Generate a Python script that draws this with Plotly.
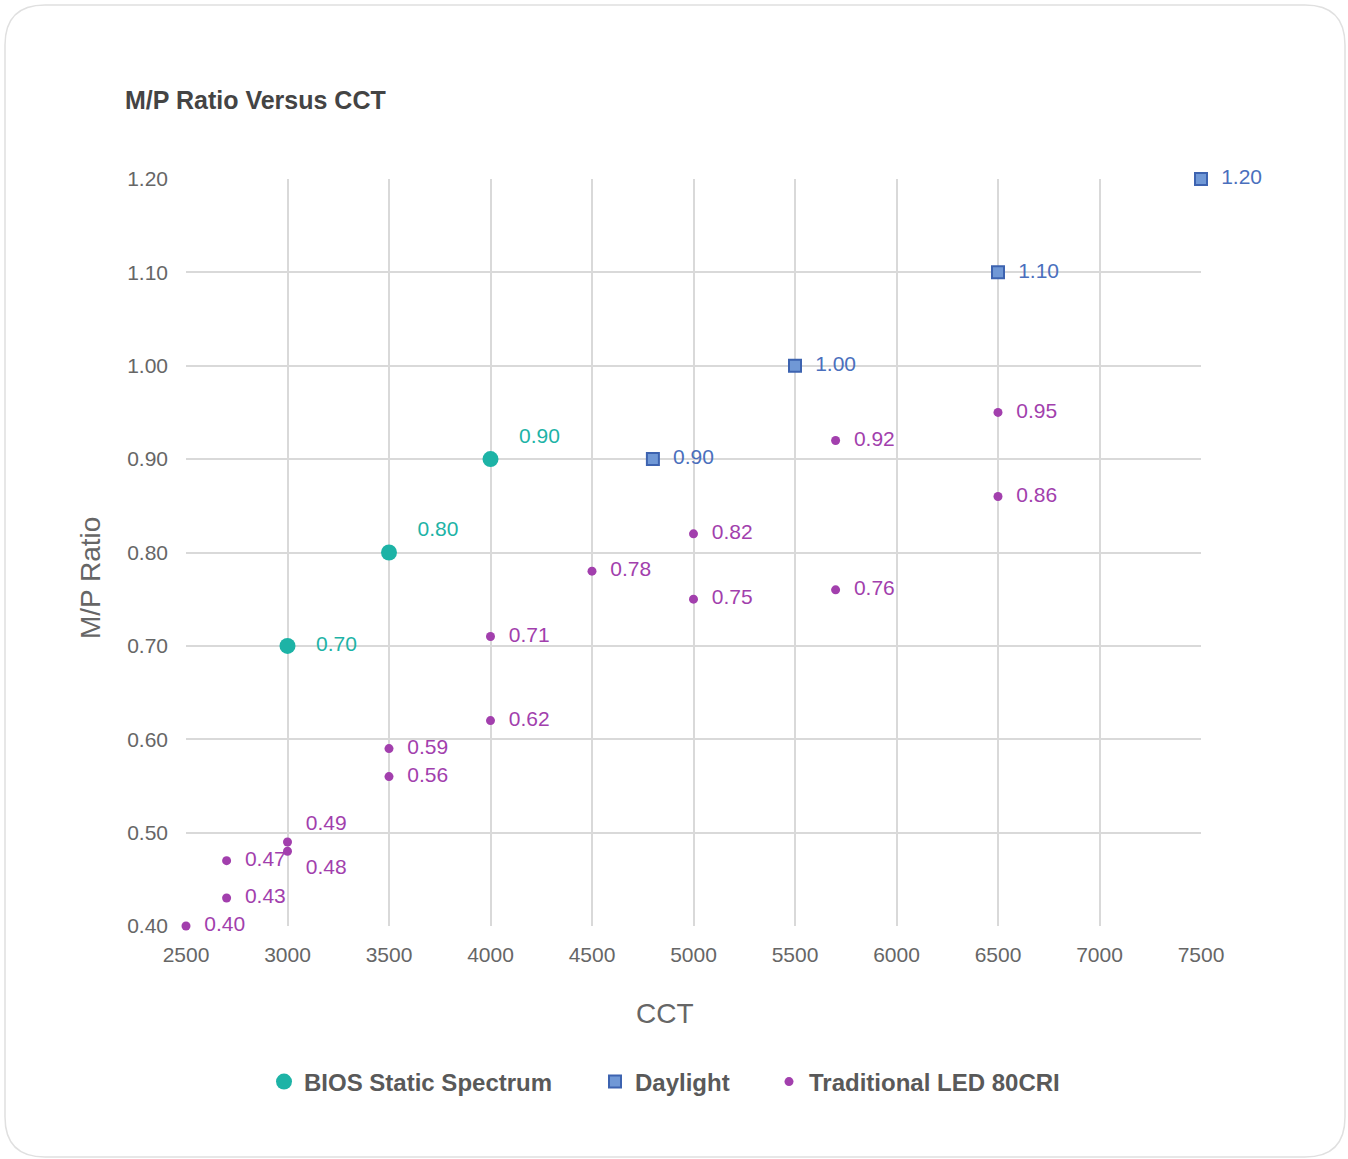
import plotly.graph_objects as go

# ---- data ----
bios_x = [3000, 3500, 4000]
bios_y = [0.70, 0.80, 0.90]
bios_pos = ["middle right", "top right", "top right"]

day_x = [4800, 5500, 6500, 7500]
day_y = [0.90, 1.00, 1.10, 1.20]
day_pos = ["middle right"] * 4

led_x = [2500, 2700, 2700, 3000, 3000, 3500, 3500, 4000, 4000, 4500, 5000, 5000, 5700, 5700, 6500, 6500]
led_y = [0.40, 0.43, 0.47, 0.48, 0.49, 0.56, 0.59, 0.62, 0.71, 0.78, 0.75, 0.82, 0.76, 0.92, 0.86, 0.95]
led_pos = ["middle right", "middle right", "middle right", "bottom right", "top right",
           "middle right", "middle right", "middle right", "middle right", "middle right",
           "middle right", "middle right", "middle right", "middle right", "middle right", "middle right"]

x_ticks = [2500, 3000, 3500, 4000, 4500, 5000, 5500, 6000, 6500, 7000, 7500]
y_ticks = [0.40, 0.50, 0.60, 0.70, 0.80, 0.90, 1.00, 1.10, 1.20]

TEAL = "#1db3a6"
BLUE_FILL = "#7098d6"
BLUE_LINE = "#3d63b0"
BLUE_TEXT = "#4a6fbd"
PURPLE = "#a23fad"
FONT = "Liberation Sans, Arial, sans-serif"

W, H = 1348, 1159
L, R, T, B = 186, 1201, 179, 926
pw, ph = R - L, B - T


def px(xp):
    return (xp - L) / pw


def py(yp):
    return (B - yp) / ph


fig = go.Figure()
fig.add_trace(go.Scatter(
    x=bios_x, y=bios_y, mode="markers+text", name="BIOS Static Spectrum", legend="legend",
    showlegend=True,
    marker=dict(color=TEAL, size=16, symbol="circle"),
    text=[f"{v:.2f}" for v in bios_y], texttemplate="   %{text}", textposition=bios_pos,
    textfont=dict(color=TEAL, size=21, family=FONT), cliponaxis=False))
fig.add_trace(go.Scatter(
    x=day_x, y=day_y, mode="markers+text", name="Daylight", legend="legend2",
    showlegend=True,
    marker=dict(color=BLUE_FILL, size=12, symbol="square", line=dict(color=BLUE_LINE, width=2)),
    text=[f"{v:.2f}" for v in day_y], texttemplate="  %{text}", textposition=day_pos,
    textfont=dict(color=BLUE_TEXT, size=21, family=FONT), cliponaxis=False))
fig.add_trace(go.Scatter(
    x=led_x, y=led_y, mode="markers+text", name="Traditional LED 80CRI", legend="legend3",
    showlegend=True,
    marker=dict(color=PURPLE, size=9, symbol="circle"),
    text=[f"{v:.2f}" for v in led_y], texttemplate="  %{text}", textposition=led_pos,
    textfont=dict(color=PURPLE, size=21, family=FONT), cliponaxis=False))

# rounded card border
x0, x1, y0, y1 = 5, 1345, 5, 1157
r = 40
path = (f"M {px(x0 + r)} {py(y0)} L {px(x1 - r)} {py(y0)} Q {px(x1)} {py(y0)} {px(x1)} {py(y0 + r)} "
        f"L {px(x1)} {py(y1 - r)} Q {px(x1)} {py(y1)} {px(x1 - r)} {py(y1)} "
        f"L {px(x0 + r)} {py(y1)} Q {px(x0)} {py(y1)} {px(x0)} {py(y1 - r)} "
        f"L {px(x0)} {py(y0 + r)} Q {px(x0)} {py(y0)} {px(x0 + r)} {py(y0)} Z")

leg_font = dict(size=24, color="#595959", family=FONT, weight="bold")


def leg(xc):
    return dict(orientation="h", x=px(xc - 20), xanchor="left", y=py(1082), yanchor="middle",
                font=leg_font, itemsizing="trace", bgcolor="rgba(0,0,0,0)")


fig.update_layout(
    width=W, height=H,
    showlegend=True,
    margin=dict(l=L, r=W - R, t=T, b=H - B),
    paper_bgcolor="white", plot_bgcolor="white",
    font=dict(family=FONT, color="#666666"),
    title=dict(text="<b>M/P Ratio Versus CCT</b>", x=125 / W, xref="container", xanchor="left",
               y=1 - 100 / H, yref="container", yanchor="middle",
               font=dict(size=25, color="#444444", family=FONT)),
    xaxis=dict(range=[2500, 7500], tickvals=x_ticks, ticktext=[str(v) for v in x_ticks],
               showgrid=True, gridcolor="#d9d9d9", gridwidth=1.5, zeroline=False,
               showline=False, tickfont=dict(size=21, color="#666666"), ticklabelstandoff=14),
    yaxis=dict(range=[0.40, 1.20], tickvals=y_ticks, ticktext=[f"{v:.2f}" for v in y_ticks],
               showgrid=True, gridcolor="#d9d9d9", gridwidth=1.5, zeroline=False,
               showline=False, tickfont=dict(size=21, color="#666666"), ticklabelstandoff=17),
    legend=leg(284),
    legend2=leg(615),
    legend3=leg(789),
    shapes=[dict(type="path", xref="paper", yref="paper", path=path,
                 line=dict(color="#e0e0e0", width=1.5), layer="below")],
    annotations=[
        dict(text="M/P Ratio", x=px(90), y=py(578), xref="paper", yref="paper", textangle=-90,
             xanchor="center", yanchor="middle",
             showarrow=False, font=dict(size=28, color="#666666", family=FONT)),
        dict(text="CCT", x=px(665), y=py(1014), xref="paper", yref="paper",
             xanchor="center", yanchor="middle",
             showarrow=False, font=dict(size=28, color="#666666", family=FONT)),
    ],
)

fig.write_html("out.html")
